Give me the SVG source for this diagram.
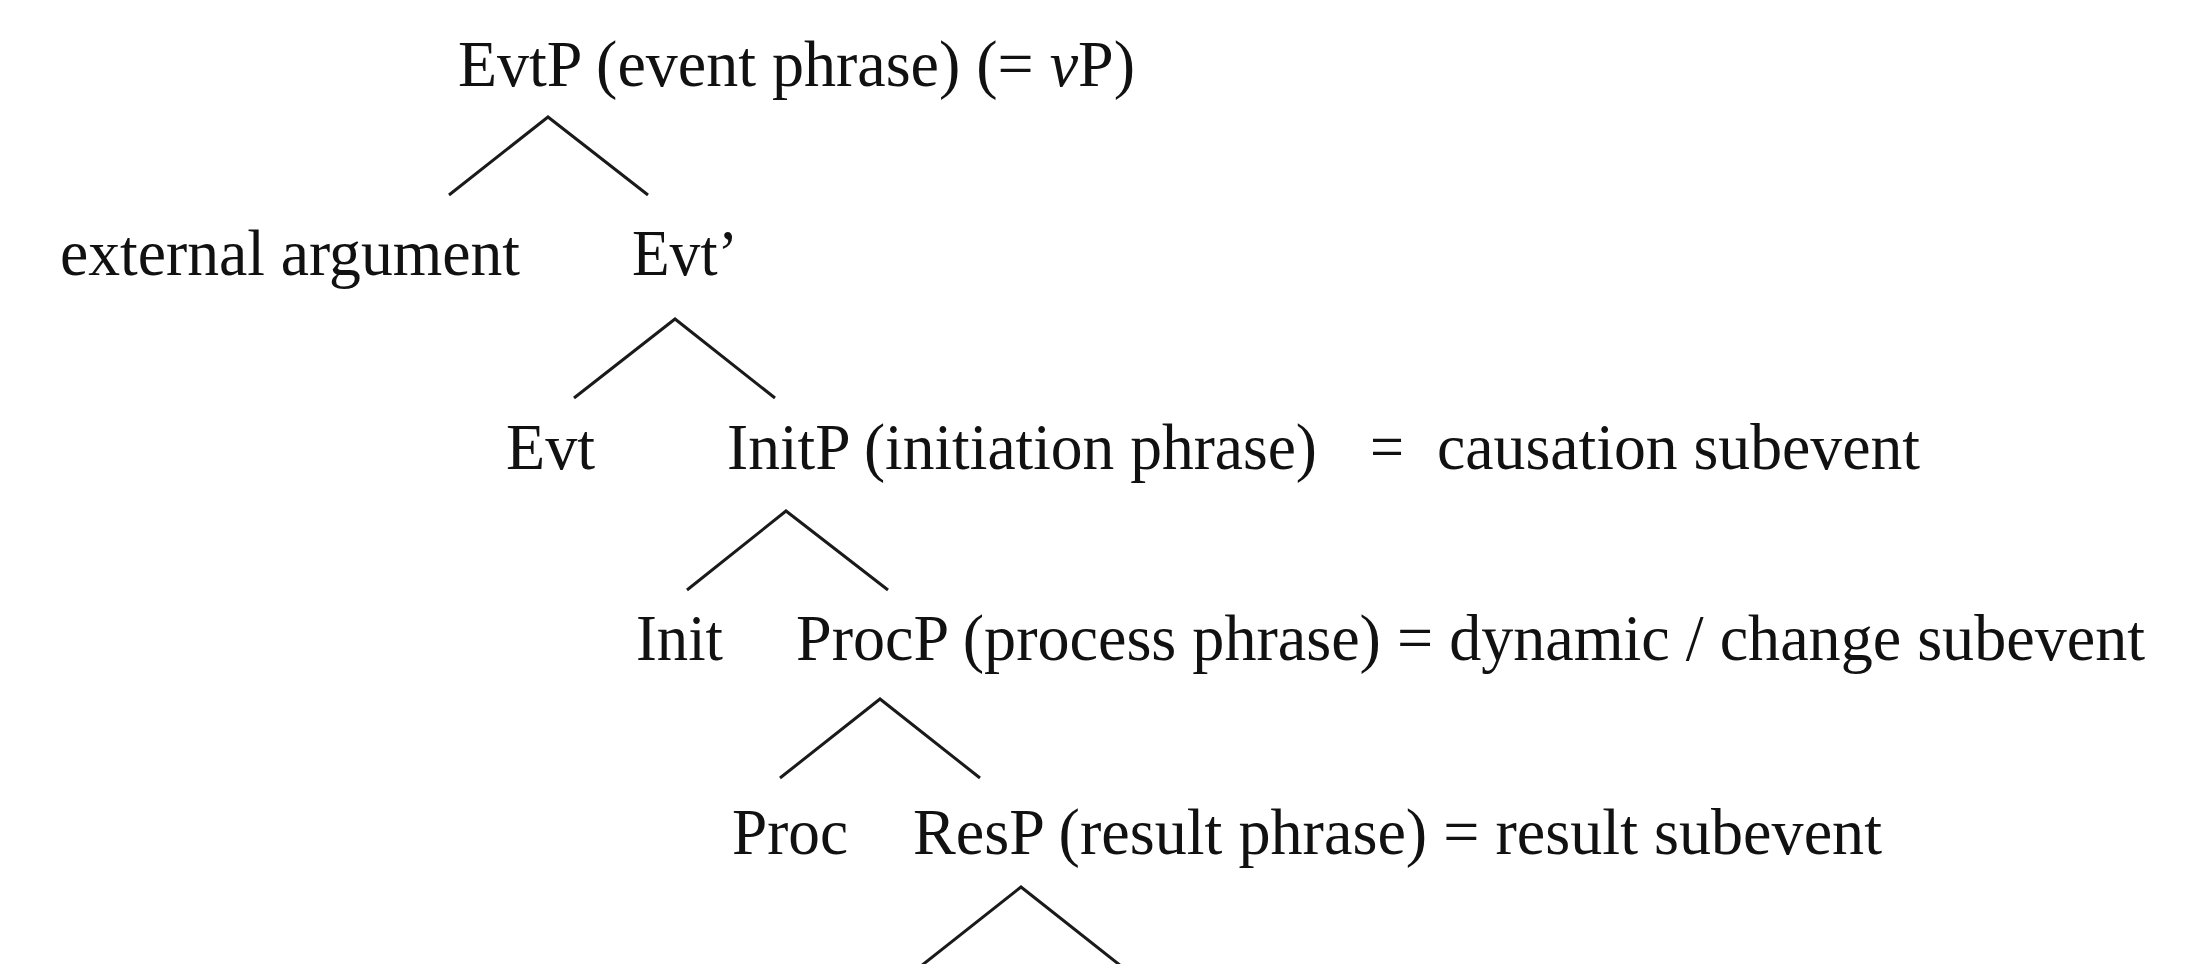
<svg xmlns="http://www.w3.org/2000/svg" width="2202" height="964" viewBox="0 0 2202 964">
<style>
text { font-family: "Liberation Serif", "Times New Roman", serif; font-size: 65px; fill: #111; }
.edge { stroke: #1a1a1a; stroke-width: 3; fill: none; stroke-linecap: butt; }
</style>
<rect width="2202" height="964" fill="#ffffff"/>
<g id="connectors">
<polyline class="edge" points="449,195 548,117 648,195"/>
<polyline class="edge" points="574,398 675,319 775,398"/>
<polyline class="edge" points="687,590 786,511 888,590"/>
<polyline class="edge" points="780,778 880,699 980,778"/>
<polyline class="edge" points="921,966 1021,887 1121,966"/>
</g>
<g id="node-evtp"><text x="458" y="86" textLength="677" lengthAdjust="spacingAndGlyphs">EvtP (event phrase) (= <tspan font-style="italic">v</tspan>P)</text></g>
<g id="node-external"><text x="60" y="275" textLength="460" lengthAdjust="spacingAndGlyphs">external argument</text></g>
<g id="node-evtbar"><text x="632" y="275" textLength="106" lengthAdjust="spacingAndGlyphs">Evt’</text></g>
<g id="node-evt"><text x="506" y="469" textLength="89" lengthAdjust="spacingAndGlyphs">Evt</text></g>
<g id="node-initp"><text x="727" y="469" textLength="590" lengthAdjust="spacingAndGlyphs">InitP (initiation phrase)</text><text x="1370" y="469" textLength="34" lengthAdjust="spacingAndGlyphs">=</text><text x="1437" y="469" textLength="483" lengthAdjust="spacingAndGlyphs">causation subevent</text></g>
<g id="node-init"><text x="636" y="660" textLength="87" lengthAdjust="spacingAndGlyphs">Init</text></g>
<g id="node-procp"><text x="796" y="660" textLength="1349" lengthAdjust="spacingAndGlyphs">ProcP (process phrase) = dynamic / change subevent</text></g>
<g id="node-proc"><text x="732" y="854" textLength="116" lengthAdjust="spacingAndGlyphs">Proc</text></g>
<g id="node-resp"><text x="913" y="854" textLength="969" lengthAdjust="spacingAndGlyphs">ResP (result phrase) = result subevent</text></g>
</svg>
